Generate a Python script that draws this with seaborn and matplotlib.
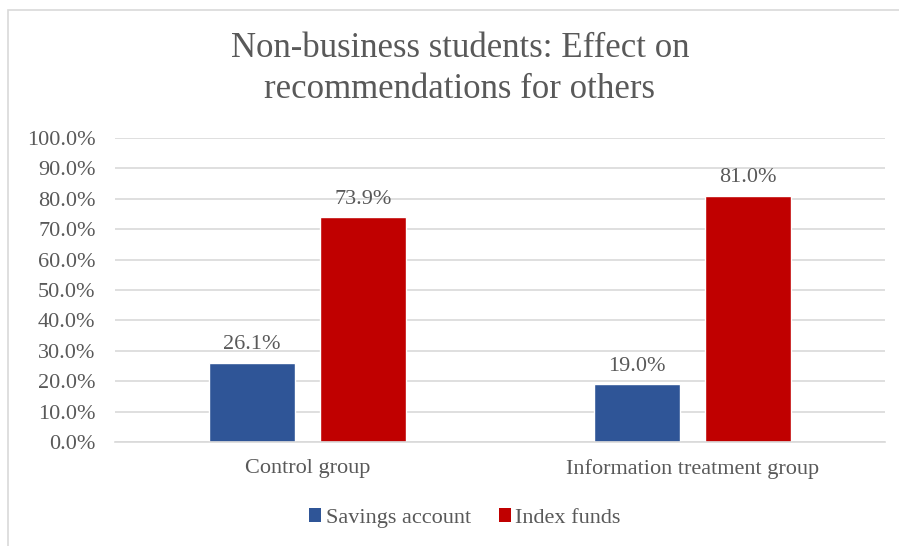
import matplotlib
matplotlib.use("Agg")
import matplotlib.pyplot as plt
import matplotlib.patches as mpatches
from matplotlib.ticker import PercentFormatter
import pandas as pd
import seaborn as sns

groups = ["Control group", "Information treatment group"]
series = ["Savings account", "Index funds"]
savings_account = [26.1, 19.0]
index_funds = [73.9, 81.0]
y_ticks = [0, 10, 20, 30, 40, 50, 60, 70, 80, 90, 100]

df = pd.DataFrame({
    "group": groups * 2,
    "series": [series[0]] * 2 + [series[1]] * 2,
    "value": savings_account + index_funds,
})

sns.set_theme(style="white")
plt.rcParams["font.family"] = ["Liberation Serif", "DejaVu Serif"]

TEXT = "#595959"
GRID = "#d9d9d9"
palette = {"Savings account": "#2F5597", "Index funds": "#C00000"}
FS = 16

W, H = 899, 546
fig = plt.figure(figsize=(W / 100, H / 100), dpi=100)
fig.patch.set_facecolor("white")

# outer chart frame
fig.add_artist(mpatches.Rectangle((8 / W, -0.1), 1.2, (H - 10) / H + 0.1,
                                  transform=fig.transFigure, fill=False,
                                  edgecolor="#d9d9d9", linewidth=1.2))

ax = fig.add_axes([115 / W, (H - 442) / H, 770 / W, 304 / H])
sns.barplot(data=df, x="group", y="value", hue="series", order=groups,
            hue_order=series, palette=palette, width=0.577, gap=0.22,
            saturation=1, ax=ax, legend=False)

ax.set_xlim(-0.5, 1.5)
ax.set_ylim(0, 100)
ax.set_yticks(y_ticks)
ax.yaxis.set_major_formatter(PercentFormatter(decimals=1))
ax.grid(axis="y", color=GRID, linewidth=1.2)
ax.set_axisbelow(True)
for side in ["top", "right", "left"]:
    ax.spines[side].set_visible(False)
ax.spines["bottom"].set_color(GRID)
ax.spines["bottom"].set_linewidth(1.2)
ax.tick_params(axis="both", length=0, labelsize=FS, colors=TEXT)
ax.tick_params(axis="y", pad=14)
ax.tick_params(axis="x", pad=12)
ax.set_xlabel("")
ax.set_ylabel("")

for cont in ax.containers:
    ax.bar_label(cont, fmt="%.1f%%", padding=6, fontsize=FS, color=TEXT)

fig.text(460 / W, 1 - 69 / H, "Non-business students: Effect on\nrecommendations for others",
         ha="center", va="center", fontsize=25, color=TEXT, linespacing=1.3)

handles = [mpatches.Patch(facecolor=palette[s], edgecolor="none") for s in series]
fig.legend(handles, series, loc="center", bbox_to_anchor=(465 / W, 1 - 518 / H),
           ncol=2, frameon=False, fontsize=FS, labelcolor=TEXT,
           handlelength=0.55, handleheight=0.55, handletextpad=0.2, columnspacing=1.25)

fig.savefig("out.png", dpi=100, facecolor="white")
